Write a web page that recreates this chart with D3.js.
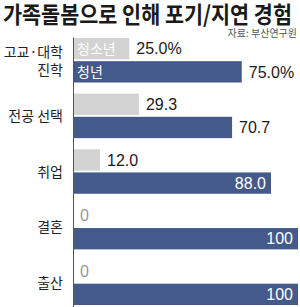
<!DOCTYPE html>
<html>
<head>
<meta charset="utf-8">
<script src="https://cdn.jsdelivr.net/npm/d3@7"></script>
<style>
  body { margin: 0; background: #fff; }
  svg { display: block; }
</style>
</head>
<body>
<div id="chart"></div>
<script>
// data
const categories = ["고교·대학 진학", "전공 선택", "취업", "결혼", "출산"];
const series = ["청소년", "청년"];
const teenValues = [25.0, 29.3, 12.0, 0, 0];
const youthValues = [75.0, 70.7, 88.0, 100, 100];
const teenLabels = ["25.0%", "29.3", "12.0", "0", "0"];
const youthLabels = ["75.0%", "70.7", "88.0", "100", "100"];

const width = 300, height = 307;
const margin = { top: 38, right: 2, bottom: 2, left: 73 };
const colors = { "청소년": "#d3d3d3", "청년": "#435a8b" };
const kr = "'Noto Sans CJK KR', sans-serif";
const num = "'Liberation Sans Narrow', 'Liberation Sans', Arial, sans-serif";

const svg = d3.select("#chart").append("svg")
  .attr("width", width)
  .attr("height", height);

// title + source
svg.append("text")
  .attr("x", 3).attr("y", 23)
  .attr("textLength", 289).attr("lengthAdjust", "spacingAndGlyphs")
  .style("font-family", kr).style("font-weight", 700).style("font-size", "23px")
  .style("fill", "#1a1a1a")
  .text("가족돌봄으로 인해 포기/지연 경험");

svg.append("text")
  .attr("x", 297).attr("y", 37)
  .attr("text-anchor", "end")
  .style("font-family", kr).style("font-size", "10px").style("fill", "#555")
  .text("자료: 부산연구원");

const x = d3.scaleLinear()
  .domain([0, 100])
  .range([margin.left, width - margin.right]);

const y = d3.scaleBand()
  .domain(categories)
  .range([margin.top, height - margin.bottom])
  .paddingInner(0.2)
  .paddingOuter(0);

const ySub = d3.scaleBand()
  .domain(series)
  .range([0, y.bandwidth()])
  .paddingInner(0.08);

const rows = categories.map((c, i) => ({
  cat: c,
  vals: [
    { s: "청소년", v: teenValues[i], label: teenLabels[i] },
    { s: "청년", v: youthValues[i], label: youthLabels[i] }
  ]
}));

const groups = svg.selectAll("g.row")
  .data(rows)
  .enter().append("g")
  .attr("class", "row")
  .attr("transform", d => `translate(0,${y(d.cat)})`);

groups.selectAll("rect")
  .data(d => d.vals)
  .enter().append("rect")
  .attr("x", x(0))
  .attr("y", d => ySub(d.s))
  .attr("width", d => x(d.v) - x(0))
  .attr("height", ySub.bandwidth())
  .attr("fill", d => colors[d.s]);

// value labels: inside (white) when bar is long, else outside
groups.selectAll("text.val")
  .data(d => d.vals)
  .enter().append("text")
  .attr("class", "val")
  .attr("x", d => d.v >= 80 ? x(d.v) - 5 : x(d.v) + 7)
  .attr("y", d => ySub(d.s) + ySub.bandwidth() / 2)
  .attr("dy", "0.36em")
  .attr("text-anchor", d => d.v >= 80 ? "end" : "start")
  .style("font-family", num)
  .style("font-size", "16px")
  .style("fill", d => d.v >= 80 ? "#fff" : (d.v === 0 ? "#999" : "#1a1a1a"))
  .text(d => d.label);

// legend words inside the first group's bars
const first = rows[0];
svg.selectAll("text.legend")
  .data(series)
  .enter().append("text")
  .attr("class", "legend")
  .attr("x", x(0) + 4)
  .attr("y", s => y(first.cat) + ySub(s) + ySub.bandwidth() / 2)
  .attr("dy", "0.36em")
  .style("font-family", kr).style("font-size", "14px").style("fill", "#fff")
  .text(s => s);

// category labels
svg.selectAll("text.cat")
  .data(categories)
  .enter().append("text")
  .attr("class", "cat")
  .attr("x", 63)
  .attr("y", d => y(d) + y.bandwidth() / 2)
  .attr("text-anchor", "end")
  .style("font-family", kr).style("font-size", "14px").style("fill", "#222")
  .each(function(d) {
    const parts = d === "고교·대학 진학" ? ["고교·대학", "진학"] : [d];
    const sel = d3.select(this);
    parts.forEach((p, i) => {
      sel.append("tspan")
        .attr("x", 63)
        .attr("dy", i === 0 ? (parts.length === 2 ? "-0.25em" : "0.36em") : "1.3em")
        .text(p);
    });
  });

// vertical axis line
svg.append("g")
  .attr("transform", `translate(${x(0)},0)`)
  .call(d3.axisLeft(d3.scaleLinear().range([margin.top - 1, height])).ticks(0).tickSizeOuter(0))
  .select("path.domain")
  .style("stroke", "#555")
  .style("stroke-width", 1);
</script>
</body>
</html>
